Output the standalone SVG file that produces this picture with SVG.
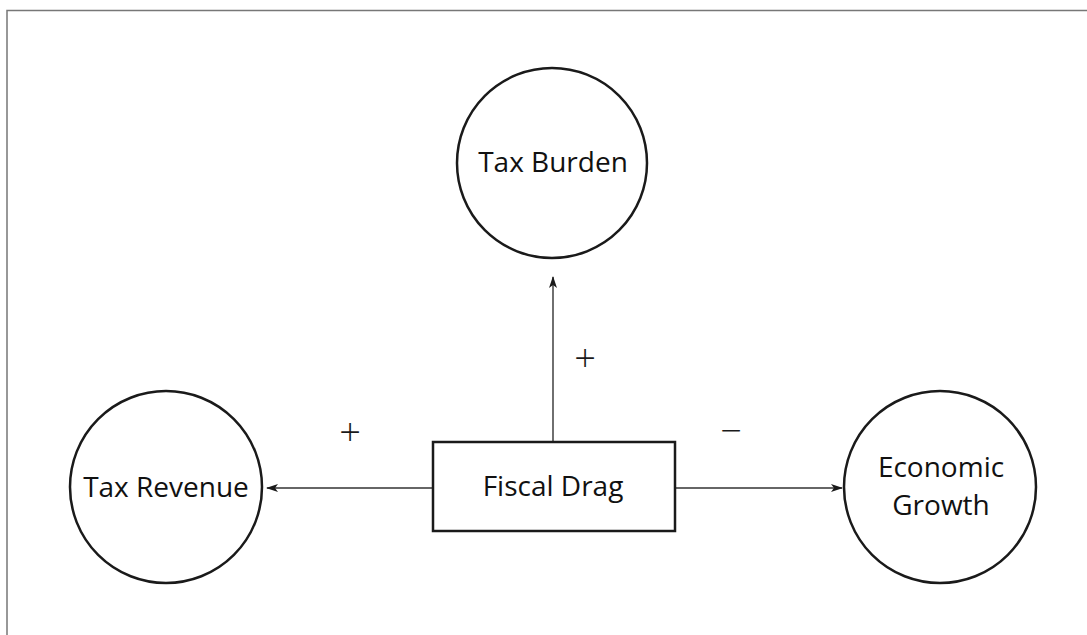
<svg xmlns="http://www.w3.org/2000/svg" width="1087" height="635" viewBox="0 0 1087 635">
<style>
.node{fill:#fff;stroke:#1a1a1a;stroke-width:2.5}
.lbl{font-family:"Open Sans","Liberation Sans",sans-serif;font-size:28px;fill:#111;text-anchor:middle}
.conn{stroke:#333;stroke-width:1.4;fill:none}
.sign{font-family:"Open Sans","Liberation Sans",sans-serif;font-size:38px;font-weight:300;fill:#1a1a1a;text-anchor:middle}
.frame{stroke:#777;stroke-width:1.5;fill:none}
</style>
<defs>
<marker id="arr" viewBox="0 0 12 8" refX="11" refY="4" markerWidth="12" markerHeight="8" markerUnits="userSpaceOnUse" orient="auto">
<path d="M0,0 L12,4 L0,8 L3,4 Z" fill="#1a1a1a"/>
</marker>
</defs>
<rect width="1087" height="635" fill="#fff"/>
<path class="frame" d="M7,635 V10.5 H1087"/>
<g id="connectors">
<line class="conn" x1="553" y1="442" x2="553" y2="277" marker-end="url(#arr)"/>
<line class="conn" x1="433" y1="488" x2="267" y2="488" marker-end="url(#arr)"/>
<line class="conn" x1="675" y1="488" x2="842" y2="488" marker-end="url(#arr)"/>
<text class="sign" x="585" y="372">+</text>
<text class="sign" x="350" y="446">+</text>
<text class="sign" x="731" y="444">−</text>
</g>
<g id="tax-burden">
<circle class="node" cx="552" cy="163" r="95"/>
<text class="lbl" x="553" y="172">Tax Burden</text>
</g>
<g id="tax-revenue">
<circle class="node" cx="166" cy="487" r="96"/>
<text class="lbl" x="166" y="497">Tax Revenue</text>
</g>
<g id="fiscal-drag">
<rect class="node" x="433" y="442" width="242" height="89"/>
<text class="lbl" x="553" y="496">Fiscal Drag</text>
</g>
<g id="economic-growth">
<circle class="node" cx="940" cy="487" r="96"/>
<text class="lbl" x="941" y="477">Economic</text>
<text class="lbl" x="941" y="515">Growth</text>
</g>
</svg>
